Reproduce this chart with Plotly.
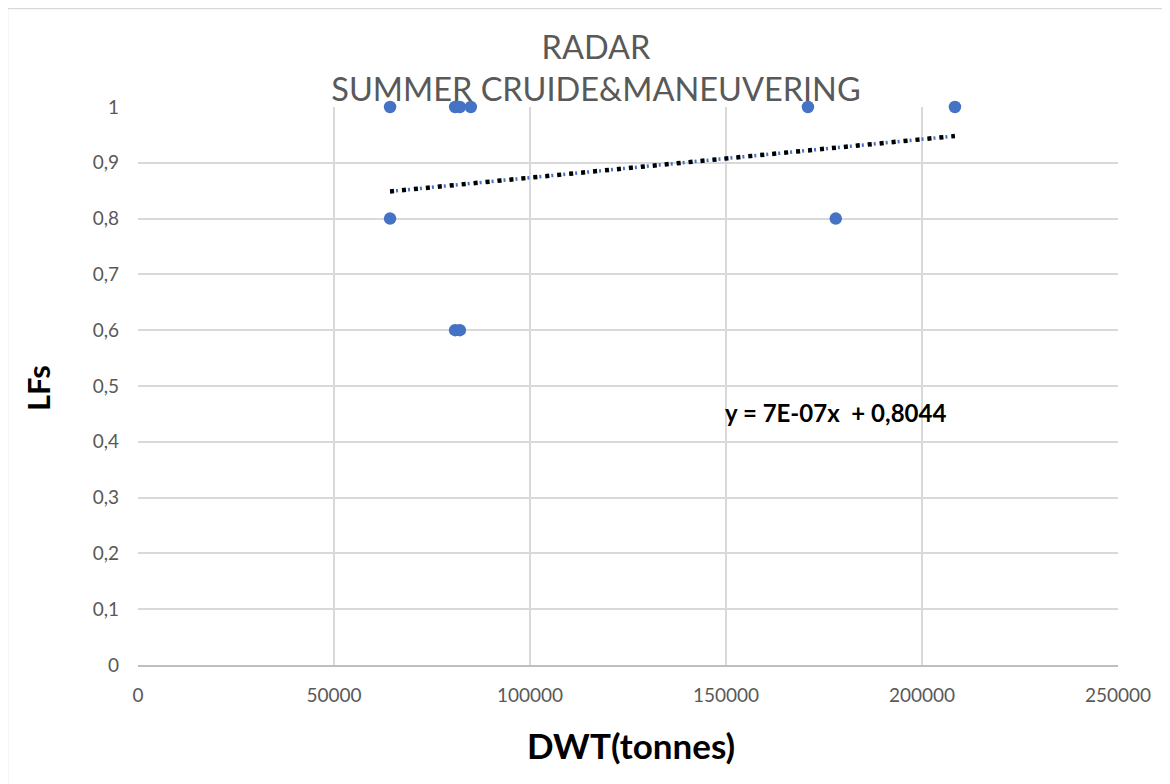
import numpy as np
import plotly.graph_objects as go

# Data
dwt = [64300, 64300, 80900, 82100, 84900, 80900, 82100, 170900, 178000, 208400]
lfs = [1.0, 0.8, 1.0, 1.0, 1.0, 0.6, 0.6, 1.0, 0.8, 1.0]

x_tickvals = [0, 50000, 100000, 150000, 200000, 250000]
x_ticktext = ["0", "50000", "100000", "150000", "200000", "250000"]
y_tickvals = [0, 0.1, 0.2, 0.3, 0.4, 0.5, 0.6, 0.7, 0.8, 0.9, 1.0]
y_ticktext = ["0", "0,1", "0,2", "0,3", "0,4", "0,5", "0,6", "0,7", "0,8", "0,9", "1"]

title_lines = ["RADAR", "SUMMER CRUIDE&MANEUVERING"]
equation_text = "y = 7E-07x  + 0,8044"
x_title = "DWT(tonnes)"
y_title = "LFs"

# Linear trendline from data
slope, intercept = np.polyfit(dwt, lfs, 1)
tx = np.array([min(dwt), max(dwt)])
ty = slope * tx + intercept

FONT = "Lato, 'Open Sans', sans-serif"
OFF = 8  # page body margin
W, H = 1170, 784
L, R, T, B = 138 - OFF, 1118 - OFF, 107 - OFF, 665 - OFF

fig = go.Figure()
fig.add_trace(go.Scatter(x=tx, y=ty, mode="lines",
                         line=dict(color="#4472C4", width=3.5, dash="2px,4px"),
                         hoverinfo="skip", showlegend=False))
fig.add_trace(go.Scatter(x=tx, y=ty, mode="lines",
                         line=dict(color="#000000", width=4.5, dash="4px,8px"),
                         hoverinfo="skip", showlegend=False))
fig.add_trace(go.Scatter(x=dwt, y=lfs, mode="markers",
                         marker=dict(color="#4472C4", size=12.5, line=dict(width=0)),
                         showlegend=False, cliponaxis=False))

def px_x(p):
    # p in viewport pixels
    return (p - OFF - L) / (R - L)

def px_y(p):
    return (B - (p - OFF)) / (B - T)

fig.update_layout(
    width=W, height=H,
    margin=dict(l=L, r=W - R, t=T, b=H - B),
    paper_bgcolor="white", plot_bgcolor="white",
    showlegend=False,
    title=dict(text="<br>".join(title_lines), x=588 / W, xanchor="center",
               y=1 - 51 / H, yanchor="middle",
               font=dict(family=FONT, size=32.5, color="#595959")),
    xaxis=dict(range=[0, 250000], tickmode="array", tickvals=x_tickvals, ticktext=x_ticktext,
               showgrid=True, gridcolor="#d9d9d9", gridwidth=1.5,
               zeroline=False, showline=True, linecolor="#bfbfbf", linewidth=1.5,
               ticks="", ticklabelstandoff=12,
               tickfont=dict(family=FONT, size=19, color="#595959")),
    yaxis=dict(range=[0, 1], tickmode="array", tickvals=y_tickvals, ticktext=y_ticktext,
               showgrid=True, gridcolor="#d9d9d9", gridwidth=1.5,
               zeroline=False, showline=False,
               ticks="", ticklabelstandoff=18,
               tickfont=dict(family=FONT, size=19, color="#595959")),
    shapes=[dict(type="rect", xref="paper", yref="paper",
                 x0=px_x(7.5), x1=px_x(1190), y0=px_y(800), y1=px_y(8.5),
                 line=dict(color="#d9d9d9", width=1.5), fillcolor="rgba(0,0,0,0)",
                 layer="below")],
    annotations=[
        dict(text="<b>" + equation_text + "</b>", xref="paper", yref="paper",
             x=px_x(723), y=px_y(412), xanchor="left", yanchor="middle",
             showarrow=False, font=dict(family=FONT, size=24, color="#000000")),
        dict(text="<b>" + x_title + "</b>", xref="paper", yref="paper",
             x=px_x(631), y=px_y(745), xanchor="center", yanchor="middle",
             showarrow=False, font=dict(family=FONT, size=35, color="#000000")),
        dict(text="<b>" + y_title + "</b>", xref="paper", yref="paper",
             x=px_x(38), y=px_y(388), xanchor="center", yanchor="middle",
             textangle=-90, showarrow=False,
             font=dict(family=FONT, size=31, color="#000000")),
    ],
)

fig.write_html("out.html")
